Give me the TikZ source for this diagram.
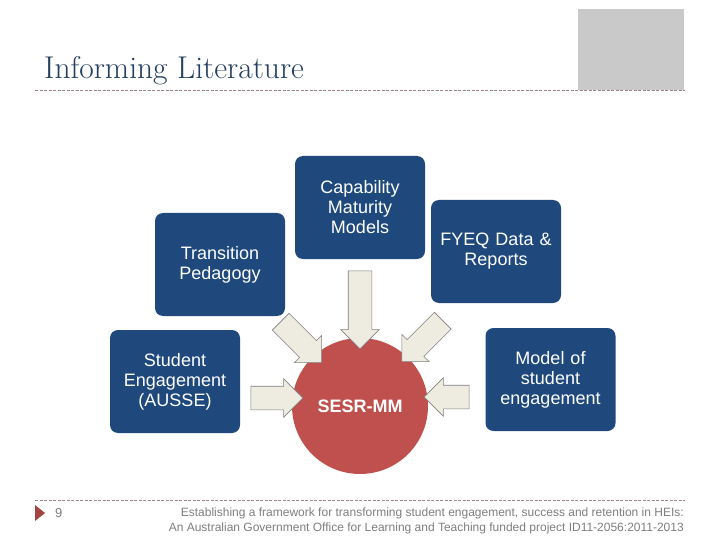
\documentclass[tikz,border=0pt]{standalone}
\usepackage{fontspec}
\setsansfont{Liberation Sans}
\usetikzlibrary{shapes.arrows}

\definecolor{boxblue}{HTML}{1F497D}
\definecolor{hubred}{HTML}{C0504D}
\definecolor{arrowfill}{HTML}{EEECE1}
\definecolor{titleblue}{HTML}{243F60}
\definecolor{rulebrown}{HTML}{9C8585}
\definecolor{footgray}{HTML}{7F7F7F}

\tikzset{
  litbox/.style={fill=boxblue, rounded corners=8pt, minimum width=130pt,
    minimum height=103pt, text width=126pt, align=center, text=white,
    inner sep=0pt, font=\sffamily\fontsize{18}{20}\selectfont},
  hub/.style={circle, fill=hubred, minimum size=136pt, inner sep=0pt,
    text=white, font=\sffamily\bfseries\fontsize{18}{20}\selectfont},
  blockarrow/.style={single arrow, draw=footgray, fill=arrowfill, line width=0.6pt,
    inner xsep=0pt, inner ysep=11.5pt, single arrow head extend=7.5pt},
  rule/.style={rulebrown, dashed, dash pattern=on 3pt off 1.5pt, line width=0.6pt},
}

\begin{document}
\begin{tikzpicture}[x=1pt,y=-1pt]
  \useasboundingbox[fill=white] (0,0) rectangle (720,540);

  % header
  \fill[black!21] (578,9) rectangle (684,90);
  \node[anchor=base west, inner sep=0pt, text=titleblue,
        font=\fontsize{31.5}{33}\selectfont] (title) at (44,79) {Informing Literature};
  \draw[rule] (35,90) -- (685,90);

  % sources
  \node[litbox] (cmm)  at (360,207.5) {Capability\\Maturity\\Models};
  \node[litbox] (tp)   at (220,264.5) {Transition\\Pedagogy};
  \node[litbox] (fyeq) at (496,251.5) {FYEQ Data \&\\Reports};
  \node[litbox] (ausse) at (175,381.5) {Student\\Engagement\\(AUSSE)};
  \node[litbox] (mse)  at (550.5,379.5) {Model of\\student\\engagement};

  % hub
  \node[hub] (sesr) at (360,406) {SESR-MM};

  % block arrows into the hub
  \node[blockarrow, minimum height=58pt, rotate=-45]  (atp)   at (297,338)   {};
  \node[blockarrow, minimum height=78pt, rotate=-90]  (acmm)  at (360,304)   {};
  \node[blockarrow, minimum height=58pt, rotate=-135] (afyeq) at (426.5,337) {};
  \node[blockarrow, minimum height=52pt]              (aausse) at (271,398)  {};
  \node[blockarrow, minimum height=45pt, rotate=180]  (amse)  at (452.5,397) {};

  % footer
  \draw[rule] (35,500) -- (685,500);
  \fill[hubred!85!black] (35,505) -- (45,513) -- (35,521) -- cycle;
  \node[anchor=west, inner sep=0pt, text=footgray,
        font=\sffamily\fontsize{13}{14}\selectfont] (page) at (55,513) {9};
  \node[anchor=east, inner sep=0pt, align=right, text=footgray,
        font=\sffamily\fontsize{12}{15}\selectfont] (credit) at (684,520.5)
    {Establishing a framework for transforming student engagement, success and retention in HEIs:\\
     An Australian Government Office for Learning and Teaching funded project  ID11-2056:2011-2013};
\end{tikzpicture}
\end{document}
